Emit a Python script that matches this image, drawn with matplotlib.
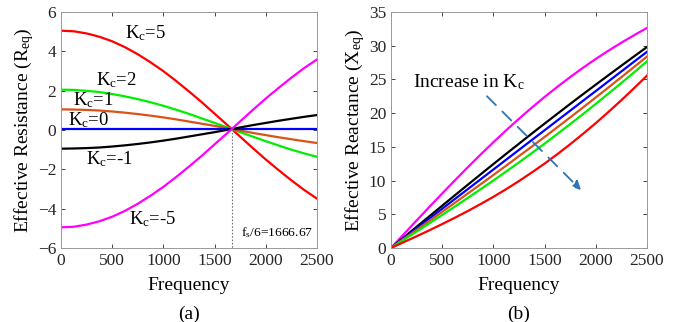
import matplotlib
matplotlib.use("Agg")
import matplotlib.pyplot as plt

plt.rcParams['font.family'] = ['Liberation Serif', 'DejaVu Serif']
plt.rcParams['mathtext.fontset'] = 'custom'
plt.rcParams['mathtext.rm'] = 'Liberation Serif'
plt.rcParams['mathtext.it'] = 'Liberation Serif:italic'

# frequency samples (Hz), every 125 Hz
freq = [0, 125, 250, 375, 500, 625, 750, 875, 1000, 1125, 1250,
        1375, 1500, 1625, 1750, 1875, 2000, 2125, 2250, 2375, 2500]

# effective resistance per Kc
r_k5 = [5.05, 5.02, 4.91, 4.74, 4.51, 4.21, 3.85, 3.44, 2.99, 2.49, 1.96,
        1.41, 0.83, 0.25, -0.34, -0.93, -1.50, -2.04, -2.56, -3.05, -3.49]
r_k2 = [2.05, 2.04, 1.99, 1.93, 1.83, 1.71, 1.57, 1.41, 1.23, 1.03, 0.82,
        0.59, 0.36, 0.13, -0.11, -0.34, -0.57, -0.79, -1.00, -1.19, -1.36]
r_k1 = [1.05, 1.04, 1.02, 0.99, 0.94, 0.88, 0.81, 0.73, 0.64, 0.54, 0.43,
        0.32, 0.21, 0.09, -0.03, -0.15, -0.26, -0.37, -0.47, -0.57, -0.66]
r_k0 = [0.05] * 21
r_km1 = [-0.95, -0.94, -0.92, -0.89, -0.84, -0.78, -0.71, -0.63, -0.54, -0.44, -0.33,
         -0.22, -0.11, 0.01, 0.13, 0.25, 0.36, 0.47, 0.57, 0.67, 0.76]
r_km5 = [-4.95, -4.92, -4.81, -4.64, -4.41, -4.11, -3.75, -3.34, -2.89, -2.39, -1.86,
         -1.31, -0.73, -0.15, 0.44, 1.03, 1.60, 2.14, 2.66, 3.15, 3.59]

# effective reactance per Kc
x_km5 = [0, 2.05, 4.08, 6.10, 8.09, 10.05, 11.98, 13.86, 15.69, 17.46, 19.17,
         20.82, 22.40, 23.91, 25.35, 26.73, 28.04, 29.28, 30.45, 31.57, 32.64]
x_km1 = [0, 1.57, 3.14, 4.71, 6.27, 7.83, 9.38, 10.92, 12.45, 13.97, 15.47,
         16.97, 18.45, 19.91, 21.37, 22.81, 24.23, 25.64, 27.04, 28.43, 29.81]
x_k0 = [0, 1.46, 2.91, 4.37, 5.82, 7.28, 8.73, 10.19, 11.64, 13.10, 14.55,
        16.01, 17.46, 18.92, 20.37, 21.83, 23.28, 24.74, 26.19, 27.65, 29.10]
x_k1 = [0, 1.34, 2.68, 4.02, 5.37, 6.72, 8.08, 9.45, 10.83, 12.22, 13.63,
        15.04, 16.47, 17.92, 19.37, 20.84, 22.33, 23.83, 25.34, 26.86, 28.39]
x_k2 = [0, 1.22, 2.44, 3.67, 4.91, 6.16, 7.43, 8.72, 10.02, 11.35, 12.70,
        14.08, 15.48, 16.92, 18.38, 19.86, 21.38, 22.92, 24.48, 26.07, 27.69]
x_k5 = [0, 0.87, 1.74, 2.63, 3.55, 4.50, 5.48, 6.52, 7.59, 8.73, 9.93,
        11.20, 12.52, 13.92, 15.39, 16.93, 18.52, 20.20, 21.93, 23.72, 25.56]

f_cross = 1666.67

red, green, orange = '#ff0000', '#00ee00', '#d95319'
blue, black, magenta = '#0000ff', '#000000', '#ff00ff'
axcol = '#262626'

fig = plt.figure(figsize=(6.95, 3.22), dpi=100)
ax1 = fig.add_axes([61/695, 1-248/322, 256/695, 236/322])
ax2 = fig.add_axes([391/695, 1-248/322, 256/695, 236/322])

lw = 1.6
ax1.plot(freq, r_k5, color=red, lw=lw)
ax1.plot(freq, r_k2, color=green, lw=lw)
ax1.plot(freq, r_k1, color=orange, lw=lw)
ax1.plot(freq, r_k0, color=blue, lw=lw)
ax1.plot(freq, r_km1, color=black, lw=lw)
ax1.plot(freq, r_km5, color=magenta, lw=lw)
ax1.plot([f_cross, f_cross], [0.05, -6], color='#777777', lw=0.8, ls=(0, (1.5, 1.5)))

fs = 13.5
ax1.text(625, 4.91, 'K$_\\mathrm{c}$=5', fontsize=fs, va='center')
ax1.text(342, 2.56, 'K$_\\mathrm{c}$=2', fontsize=fs, va='center')
ax1.text(117, 1.54, 'K$_\\mathrm{c}$=1', fontsize=fs, va='center')
ax1.text(68, 0.52, 'K$_\\mathrm{c}$=0', fontsize=fs, va='center')
ax1.text(244, -1.47, 'K$_\\mathrm{c}$=-1', fontsize=fs, va='center')
ax1.text(664, -4.53, 'K$_\\mathrm{c}$=-5', fontsize=fs, va='center')
ax1.text(1758, -5.2, 'f$_\\mathrm{s}$/6=1666.67', fontsize=9.7, va='center')

ax1.set_xlim(0, 2500)
ax1.set_ylim(-6, 6)
ax1.set_xticks([0, 500, 1000, 1500, 2000, 2500])
ax1.set_yticks([-6, -4, -2, 0, 2, 4, 6])
ax1.set_xlabel('Frequency', fontsize=14, labelpad=6)
ax1.set_ylabel('Effective Resistance (R$_\\mathrm{eq}$)', fontsize=14, labelpad=1)
ax1.text(0.5, -0.28, '(a)', transform=ax1.transAxes, fontsize=14,
         ha='center', va='center')

ax2.plot(freq, x_km5, color=magenta, lw=lw)
ax2.plot(freq, x_km1, color=black, lw=lw)
ax2.plot(freq, x_k0, color=blue, lw=lw)
ax2.plot(freq, x_k1, color=orange, lw=lw)
ax2.plot(freq, x_k2, color=green, lw=lw)
ax2.plot(freq, x_k5, color=red, lw=lw)

ax2.annotate('', xy=(1875, 8.3), xytext=(918, 22.8),
             arrowprops=dict(arrowstyle='-|>', color='#2e75b6', lw=1.3,
                             ls=(0, (7, 5)), mutation_scale=13))
ax2.text(215, 24.6, 'Increase in K$_\\mathrm{c}$', fontsize=14, va='center')

ax2.set_xlim(0, 2500)
ax2.set_ylim(0, 35)
ax2.set_xticks([0, 500, 1000, 1500, 2000, 2500])
ax2.set_yticks([0, 5, 10, 15, 20, 25, 30, 35])
ax2.set_xlabel('Frequency', fontsize=14, labelpad=6)
ax2.set_ylabel('Effective Reactance (X$_\\mathrm{eq}$)', fontsize=14, labelpad=1)
ax2.text(0.5, -0.28, '(b)', transform=ax2.transAxes, fontsize=14,
         ha='center', va='center')

for ax in (ax1, ax2):
    ax.tick_params(direction='in', top=True, right=True, labelsize=12.5,
                   colors=axcol, length=3, width=0.6)
    for s in ax.spines.values():
        s.set_color('#999999')
        s.set_linewidth(0.7)

fig.savefig('out.png', dpi=100)
